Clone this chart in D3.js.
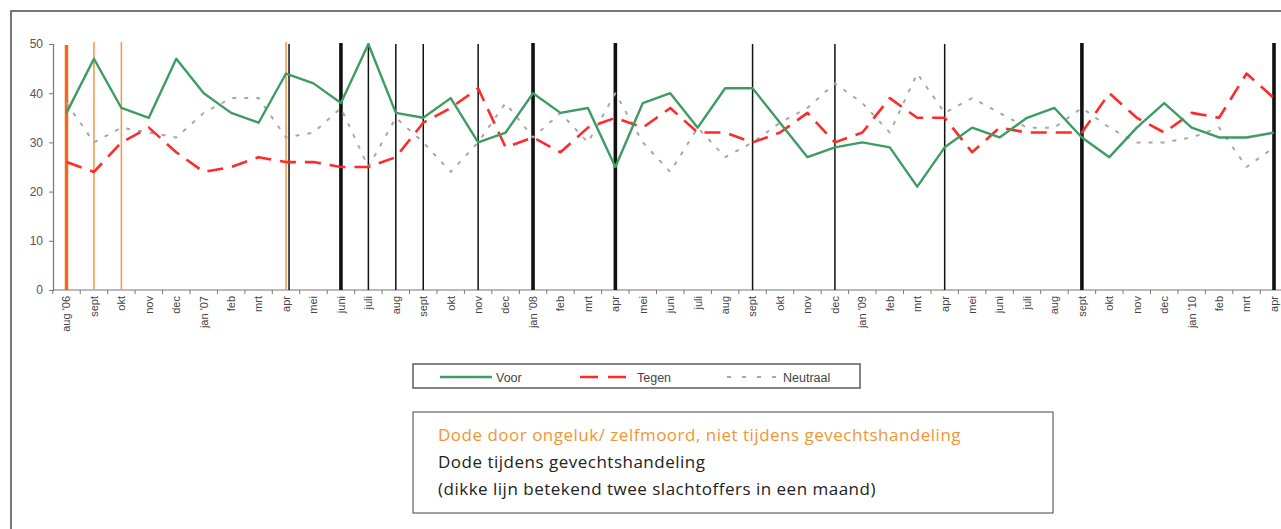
<!DOCTYPE html>
<html>
<head>
<meta charset="utf-8">
<script src="https://cdn.jsdelivr.net/npm/d3@7"></script>
<style>
  body { margin: 0; background: #fff; }
  svg { display: block; }
</style>
</head>
<body>
<svg id="chart" width="1281" height="529"></svg>
<script>
// months (unique keys) and the labels under the axis
var months = ["aug '06","sept '06","okt '06","nov '06","dec '06","jan '07","feb '07","mrt '07","apr '07",
  "mei '07","juni '07","juli '07","aug '07","sept '07","okt '07","nov '07","dec '07","jan '08","feb '08",
  "mrt '08","apr '08","mei '08","juni '08","juli '08","aug '08","sept '08","okt '08","nov '08","dec '08",
  "jan '09","feb '09","mrt '09","apr '09","mei '09","juni '09","juli '09","aug '09","sept '09","okt '09",
  "nov '09","dec '09","jan '10","feb '10","mrt '10","apr '10"];
var tickLabels = ["aug '06","sept","okt","nov","dec","jan '07","feb","mrt","apr",
  "mei","juni","juli","aug","sept","okt","nov","dec","jan '08","feb",
  "mrt","apr","mei","juni","juli","aug","sept","okt","nov","dec",
  "jan '09","feb","mrt","apr","mei","juni","juli","aug","sept","okt",
  "nov","dec","jan '10","feb","mrt","apr"];

var voor = [36,47,37,35,47,40,36,34,44, 42,38,50,36,35,39,30,32,40,36,
  37,25,38,40,33,41,41,34,27,29, 30,29,21,29,33,31,35,37,31,27,
  33,38,33,31,31,32];
var tegen = [26,24,30,33,28,24,25,27,26, 26,25,25,27,34,37,41,29,31,28,
  33,35,33,37,32,32,30,32,36,30, 32,39,35,35,28,33,32,32,32,40,
  35,32,36,35,44,39];
var neutraal = [38,30,33,32,31,36,39,39,31, 32,37,25,35,30,24,30,38,31,36,
  30,40,30,24,33,27,30,34,37,42, 38,32,44,36,39,36,33,33,37,33,
  30,30,31,33,25,29];

// deaths per month: accidents / suicide (orange) and in combat (black)
var accidentMonths = ["aug '06","sept '06","okt '06","apr '07"];
var accidentCounts = [2,1,1,1];
var combatMonths = ["apr '07","juni '07","juli '07","aug '07","sept '07","nov '07","jan '08","apr '08",
  "sept '08","dec '08","apr '09","sept '09","apr '10"];
var combatCounts = [1,2,1,1,1,1,2,2,1,1,1,2,2];

var yTicks = [0,10,20,30,40,50];

var svg = d3.select("#chart");

// outer frame
svg.append("rect")
  .attr("x", 11).attr("y", 11)
  .attr("width", 1300).attr("height", 600)
  .attr("fill", "none")
  .attr("stroke", "#555")
  .attr("stroke-width", 1.6);

var x = d3.scalePoint().domain(months).range([66.5, 1274]);
var y = d3.scaleLinear().domain([0, 50]).range([290, 44]);
var step = x.step();
var axisColor = "#777";

// y axis
var yAxis = svg.append("g")
  .attr("transform", "translate(53,0)")
  .call(d3.axisLeft(y).tickValues(yTicks).tickSize(4).tickPadding(6));
yAxis.select(".domain").attr("stroke", axisColor).attr("stroke-width", 1.2);
yAxis.selectAll(".tick line").attr("stroke", axisColor);
yAxis.selectAll("text")
  .attr("fill", "#555")
  .style("font-family", "Liberation Sans, Arial, sans-serif")
  .style("font-size", "12px");

// x axis line + ticks between months
svg.append("line")
  .attr("x1", 53).attr("x2", 1281)
  .attr("y1", y(0)).attr("y2", y(0))
  .attr("stroke", axisColor).attr("stroke-width", 1.2);

svg.append("g").selectAll("line")
  .data(months)
  .enter().append("line")
  .attr("x1", function(d) { return x(d) - step / 2; })
  .attr("x2", function(d) { return x(d) - step / 2; })
  .attr("y1", y(0)).attr("y2", y(0) + 4)
  .attr("stroke", axisColor);

svg.append("g").selectAll("text")
  .data(months)
  .enter().append("text")
  .attr("transform", function(d) { return "translate(" + x(d) + "," + (y(0) + 6) + ")rotate(-90)"; })
  .attr("text-anchor", "end")
  .attr("dy", ".35em")
  .attr("fill", "#444")
  .style("font-family", "Liberation Sans, Arial, sans-serif")
  .style("font-size", "11px")
  .text(function(d, i) { return tickLabels[i]; });

// vertical marker lines (thick line = two deaths in a month)
var shared = accidentMonths.filter(function(m) { return combatMonths.indexOf(m) >= 0; });

svg.append("g").selectAll("line")
  .data(accidentMonths)
  .enter().append("line")
  .attr("x1", function(d) { return x(d); })
  .attr("x2", function(d) { return x(d); })
  .attr("y1", function(d, i) { return accidentCounts[i] > 1 ? y(50) + 1 : y(50) - 2; })
  .attr("y2", y(0))
  .attr("stroke", function(d, i) { return accidentCounts[i] > 1 ? "#f26a1a" : "#f69a50"; })
  .attr("stroke-width", function(d, i) { return accidentCounts[i] > 1 ? 3.5 : 1.6; });

svg.append("g").selectAll("line")
  .data(combatMonths)
  .enter().append("line")
  .attr("x1", function(d) { return x(d) + (shared.indexOf(d) >= 0 ? 3 : 0); })
  .attr("x2", function(d) { return x(d) + (shared.indexOf(d) >= 0 ? 3 : 0); })
  .attr("y1", function(d, i) { return combatCounts[i] > 1 ? y(50) - 1 : y(50); })
  .attr("y2", y(0))
  .attr("stroke", "#111")
  .attr("stroke-width", function(d, i) { return combatCounts[i] > 1 ? 3.6 : 1.5; });

// series lines
var line = d3.line()
  .x(function(d, i) { return x(months[i]); })
  .y(function(d) { return y(d); });

var series = [
  { name: "Neutraal", values: neutraal, color: "#a8a8a8", width: 2, dash: "4,8" },
  { name: "Tegen", values: tegen, color: "#ff2a2a", width: 2.6, dash: "16,9" },
  { name: "Voor", values: voor, color: "#3d9c62", width: 2.4, dash: null }
];

series.forEach(function(s) {
  svg.append("path")
    .datum(s.values)
    .attr("d", line)
    .attr("fill", "none")
    .attr("stroke", s.color)
    .attr("stroke-width", s.width)
    .attr("stroke-linejoin", "round")
    .attr("stroke-dasharray", s.dash);
});

// legend for the series
var legend = svg.append("g");
legend.append("rect")
  .attr("x", 413).attr("y", 364)
  .attr("width", 447).attr("height", 24)
  .attr("fill", "#fff")
  .attr("stroke", "#666")
  .attr("stroke-width", 1.6);

var legendItems = [
  { s: series[2], x1: 440, x2: 492, tx: 496 },
  { s: series[1], x1: 580, x2: 628, tx: 637 },
  { s: series[0], x1: 727, x2: 779, tx: 783 }
];
legendItems.forEach(function(it) {
  legend.append("line")
    .attr("x1", it.x1).attr("x2", it.x2)
    .attr("y1", 377).attr("y2", 377)
    .attr("stroke", it.s.color)
    .attr("stroke-width", it.s.width)
    .attr("stroke-dasharray", it.s.name == "Tegen" ? "18,10" : (it.s.name == "Neutraal" ? "4,11" : null));
  legend.append("text")
    .attr("x", it.tx).attr("y", 381.5)
    .attr("fill", "#444")
    .style("font-family", "Liberation Sans, Arial, sans-serif")
    .style("font-size", "12.5px")
    .text(it.s.name);
});

// legend for the marker lines
var note = svg.append("g");
note.append("rect")
  .attr("x", 413).attr("y", 412)
  .attr("width", 640).attr("height", 101)
  .attr("fill", "#fff")
  .attr("stroke", "#444")
  .attr("stroke-width", 1);

var noteLines = [
  { text: "Dode door ongeluk/ zelfmoord, niet tijdens gevechtshandeling", color: "#f39433" },
  { text: "Dode tijdens gevechtshandeling", color: "#222" },
  { text: "(dikke lijn betekend twee slachtoffers in een maand)", color: "#222" }
];
note.selectAll("text")
  .data(noteLines)
  .enter().append("text")
  .attr("x", 438)
  .attr("y", function(d, i) { return 441 + i * 27; })
  .attr("fill", function(d) { return d.color; })
  .style("font-family", "Open Sans, Noto Sans, sans-serif")
  .style("font-size", "17px")
  .style("letter-spacing", "0.5px")
  .text(function(d) { return d.text; });
</script>
</body>
</html>
